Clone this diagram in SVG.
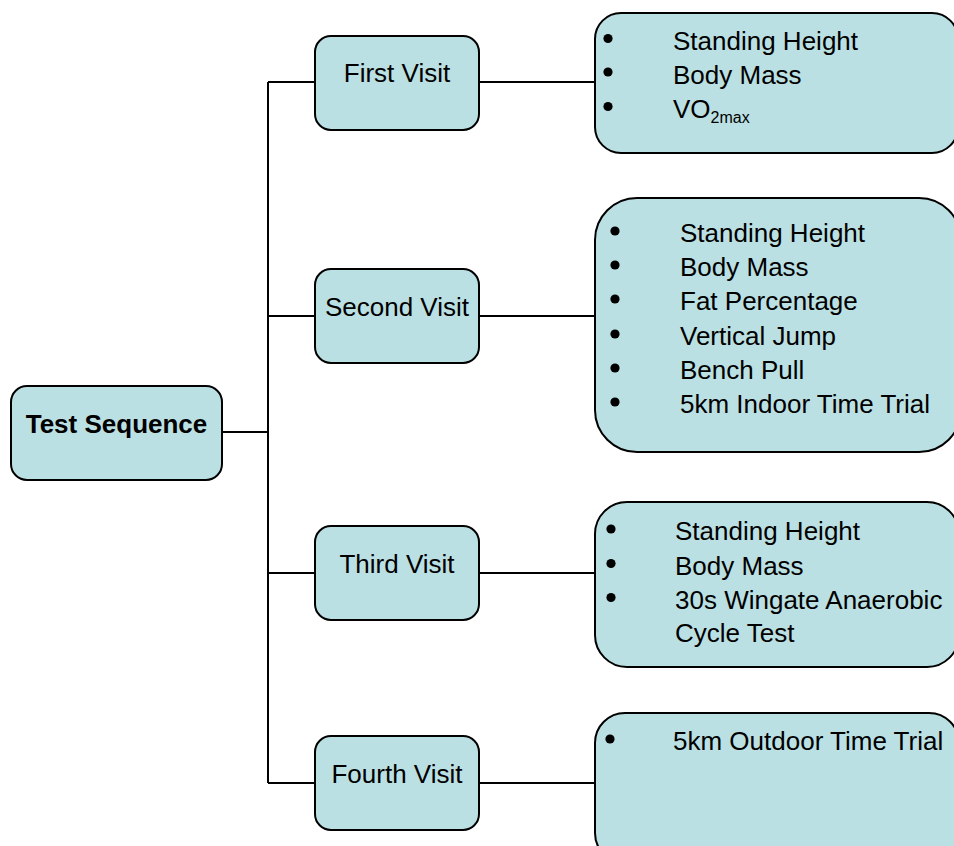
<svg xmlns="http://www.w3.org/2000/svg" width="954" height="846" viewBox="0 0 954 846">
  <style>
    .box { fill: #BBE0E3; stroke: #000; stroke-width: 2; }
    .lbl { font-family: "Liberation Sans", Arial, sans-serif; font-size: 26px; fill: #000; }
    .mid { text-anchor: middle; }
    .bold { font-weight: bold; }
    .sub { font-size: 16px; }
    .dot { fill: #000; }
    .wire { fill: none; stroke: #000; stroke-width: 2; }
  </style>
  <rect width="954" height="846" fill="#fff"/>

  <!-- connectors -->
  <g id="connectors">
    <path class="wire" d="M222 432 H268 M268 82 V783 M268 82 H315 M268 316 H315 M268 573 H315 M268 783 H315"/>
    <path class="wire" d="M479 82 H595 M479 316 H595 M479 573 H595 M479 783 H595"/>
  </g>

  <!-- root -->
  <g id="test-sequence">
    <rect class="box" x="11" y="386" width="211" height="94" rx="16"/>
    <text class="lbl bold mid" x="116.5" y="433">Test Sequence</text>
  </g>

  <!-- visits -->
  <g id="first-visit">
    <rect class="box" x="315" y="36" width="164" height="94" rx="16"/>
    <text class="lbl mid" x="397" y="82">First Visit</text>
  </g>
  <g id="second-visit">
    <rect class="box" x="315" y="269" width="164" height="94" rx="16"/>
    <text class="lbl mid" x="397" y="316">Second Visit</text>
  </g>
  <g id="third-visit">
    <rect class="box" x="315" y="526" width="164" height="94" rx="16"/>
    <text class="lbl mid" x="397" y="573">Third Visit</text>
  </g>
  <g id="fourth-visit">
    <rect class="box" x="315" y="736" width="164" height="94" rx="16"/>
    <text class="lbl mid" x="397" y="783">Fourth Visit</text>
  </g>

  <!-- measurement lists -->
  <g id="first-visit-tests">
    <rect class="box" x="595" y="13" width="363" height="140" rx="26"/>
    <circle class="dot" cx="608" cy="38.5" r="4.6"/>
    <circle class="dot" cx="608" cy="72" r="4.6"/>
    <circle class="dot" cx="608" cy="106.5" r="4.6"/>
    <text class="lbl" x="673" y="50">Standing Height</text>
    <text class="lbl" x="673" y="83.5">Body Mass</text>
    <text class="lbl" x="673" y="118">VO<tspan class="sub" dy="5">2max</tspan></text>
  </g>

  <g id="second-visit-tests">
    <rect class="box" x="595" y="198" width="366" height="254" rx="42"/>
    <circle class="dot" cx="615" cy="231" r="4.6"/>
    <circle class="dot" cx="615" cy="265" r="4.6"/>
    <circle class="dot" cx="615" cy="299" r="4.6"/>
    <circle class="dot" cx="615" cy="334" r="4.6"/>
    <circle class="dot" cx="615" cy="368" r="4.6"/>
    <circle class="dot" cx="615" cy="402" r="4.6"/>
    <text class="lbl" x="680" y="242">Standing Height</text>
    <text class="lbl" x="680" y="276">Body Mass</text>
    <text class="lbl" x="680" y="310">Fat Percentage</text>
    <text class="lbl" x="680" y="345">Vertical Jump</text>
    <text class="lbl" x="680" y="379">Bench Pull</text>
    <text class="lbl" x="680" y="413">5km Indoor Time Trial</text>
  </g>

  <g id="third-visit-tests">
    <rect class="box" x="595" y="502" width="364" height="165" rx="32"/>
    <circle class="dot" cx="611" cy="529" r="4.6"/>
    <circle class="dot" cx="611" cy="563.5" r="4.6"/>
    <circle class="dot" cx="611" cy="597.5" r="4.6"/>
    <text class="lbl" x="675" y="540">Standing Height</text>
    <text class="lbl" x="675" y="575">Body Mass</text>
    <text class="lbl" x="675" y="608.5">30s Wingate Anaerobic</text>
    <text class="lbl" x="675" y="642">Cycle Test</text>
  </g>

  <g id="fourth-visit-tests">
    <rect class="box" x="595" y="713" width="364" height="150" rx="30"/>
    <circle class="dot" cx="610" cy="739" r="4.6"/>
    <text class="lbl" x="673" y="750">5km Outdoor Time Trial</text>
  </g>
</svg>
